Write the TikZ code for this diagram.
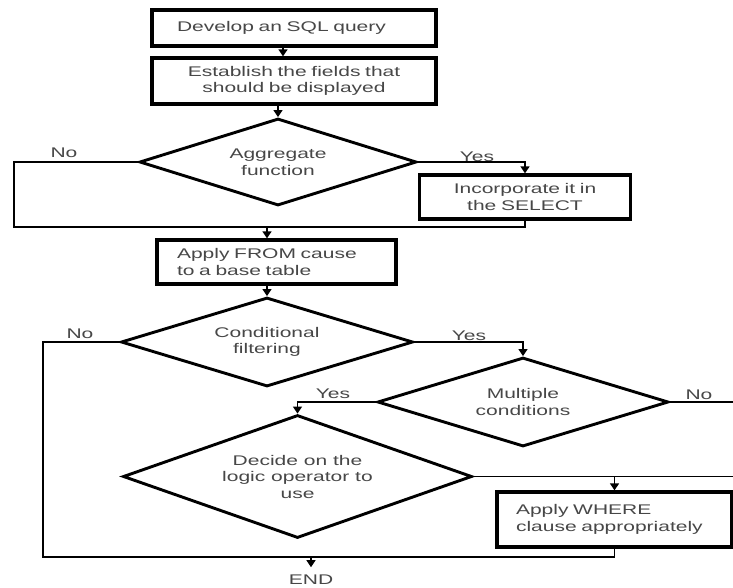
\documentclass[tikz,border=0pt]{standalone}
\usepackage{fontspec}
\setmainfont{Liberation Sans}[FakeStretch=1.5]
\usetikzlibrary{shapes.geometric,arrows.meta}
\begin{document}
\begin{tikzpicture}[x=1pt,y=-1pt,
  txt/.style={text=black!72, font=\fontsize{14}{16.5}\selectfont},
  box/.style={draw, line width=3.3pt, txt, inner sep=0pt},
  dia/.style={draw, diamond, line width=2.9pt, txt, inner sep=0pt, align=center},
  conn/.style={line width=1.4pt},
  arr/.style={conn, -{Triangle[length=7pt,width=9pt]}},
  lab/.style={txt, inner sep=0pt}
]
\useasboundingbox (0,0) rectangle (733,587);

% boxes and decisions
\node[box, minimum width=284pt, minimum height=36pt, text width=234pt, align=left] (b1) at (294,28) {Develop an SQL query};
\node[box, minimum width=284pt, minimum height=46pt, text width=284pt, align=center] (b2) at (294,81) {Establish the fields that\\should be displayed};
\node[dia, minimum width=277pt, minimum height=87pt, aspect=3.2] (d1) at (278,162) {Aggregate\\function};
\node[box, minimum width=211pt, minimum height=44pt, text width=211pt, align=center] (inc) at (525,197) {Incorporate it in\\the SELECT};
\node[box, minimum width=239pt, minimum height=44pt, text width=199pt, align=left] (b3) at (276.5,262) {Apply FROM cause\\to a base table};
\node[dia, minimum width=292pt, minimum height=89pt, aspect=3.3] (d2) at (267,342) {Conditional\\filtering};
\node[dia, minimum width=291pt, minimum height=89pt, aspect=3.3] (d3) at (523,402) {Multiple\\conditions};
\node[dia, minimum width=349pt, minimum height=123pt, aspect=2.8] (d4) at (297.5,476.5) {Decide on the\\logic operator to\\use};
\node[box, minimum width=235pt, minimum height=55pt, text width=197pt, align=left] (wh) at (614.5,519.5) {Apply WHERE\\clause appropriately};
\node[lab, anchor=base] (endn) at (311,584) {END};

% branch labels
\node[lab] (no1) at (64,153) {No};
\node[lab] (yes1) at (477,157) {Yes};
\node[lab] (no2) at (80,334) {No};
\node[lab] (yes2) at (469,336) {Yes};
\node[lab] (yes3) at (333,394) {Yes};
\node[lab] (no3) at (699,395) {No};

% helper coordinates
\coordinate (n1) at (14,162);
\coordinate (j1) at (14,227);
\coordinate (n2) at (43,342);
\coordinate (j2) at (43,557);
\coordinate (r3) at (733,402);
\coordinate (r4) at (733,476.5);

% connectors
\draw[arr] ([xshift=-11pt]b1.south) -- ([xshift=-11pt]b2.north);
\draw[arr] (b2.south -| d1.north) -- (d1.north);
\draw[arr] (d1.east) -| (inc.north);
\draw[conn] (d1.west) -- (n1) -- (j1) -- (inc.south |- j1) -- (inc.south);
\draw[arr] (d2.north |- j1) -- (b3.north -| d2.north);
\draw[arr] (b3.south -| d2.north) -- (d2.north);
\draw[arr] (d2.east) -| (d3.north);
\draw[conn] (d2.west) -- (n2) -- (j2) -- (wh.south |- j2) -- (wh.south);
\draw[arr] (d3.west) -| (d4.north);
\draw[conn] (d3.east) -- (r3);
\draw[conn] (d4.east) -- (r4);
\draw[arr] (d4.east -| wh.north) -- (wh.north);
\draw[arr, shorten >=7pt] (endn.north |- j2) -- (endn.north);
\end{tikzpicture}
\end{document}
